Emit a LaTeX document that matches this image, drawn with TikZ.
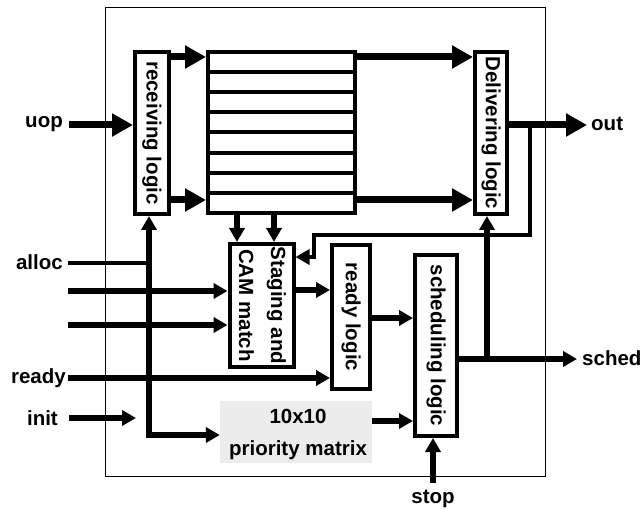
\documentclass[tikz,border=0pt]{standalone}
\usepackage{fontspec}
\usepackage{graphicx}
\setmainfont{Liberation Sans}
\usetikzlibrary{arrows.meta}
\newcommand\lblfont{\fontsize{20.5}{32}\selectfont\bfseries}
\newcommand\rottxt[1]{\rotatebox{-90}{#1}}
\begin{document}
\begin{tikzpicture}[x=1pt,y=-1pt,
  blk/.style={draw,line width=4pt,fill=white,inner sep=0pt,font=\lblfont},
  lbl/.style={inner sep=0pt,font=\lblfont},
  bigarrow/.style={line width=7pt,-{Triangle[length=21pt,width=22pt]}},
  medarrow/.style={line width=5.5pt,-{Triangle[length=14pt,width=15pt]}},
  fbarrow/.style={line width=4pt,-{Triangle[length=14pt,width=15pt]}},
  plainline/.style={line width=4pt},
]
\useasboundingbox (0,0) rectangle (642,510);
\node[draw, line width=1pt, minimum width=440pt, minimum height=468pt, inner sep=0pt] (frame) at (325,242) {};

% blocks
\node[blk, minimum width=34pt, minimum height=162pt] (recv) at (152,133) {\rottxt{receiving logic}};
\node[blk, minimum width=147pt, minimum height=161pt] (buf) at (281.5,132.5) {};
\foreach \k in {1,...,7} {\draw[line width=4pt] (206,{52+\k*20.125}) -- (357,{52+\k*20.125});}
\node[blk, minimum width=32pt, minimum height=162pt] (deliv) at (491,133) {\rottxt{Delivering logic}};
\node[blk, minimum width=59pt, minimum height=123pt] (stage) at (261.5,305.5) {\rottxt{\begin{tabular}{@{}c@{}}Staging and\\CAM match\end{tabular}}};
\node[blk, minimum width=38pt, minimum height=144pt] (ready) at (351,317) {\rottxt{ready logic}};
\node[blk, minimum width=42pt, minimum height=181pt] (sched) at (436,345.5) {\rottxt{scheduling logic}};
\node[fill=gray!15, inner sep=0pt, minimum width=152pt, minimum height=62pt, font=\lblfont, align=center] (prio) at (296,432) {};
\node[lbl, align=center] (prioT) at (298,434) {10x10\\priority matrix};

% labels
\node[lbl, anchor=mid east] (uopL) at (63,125) {uop};
\node[lbl, anchor=base east] (allocL) at (63,270) {alloc};
\node[lbl, anchor=base east] (readyL) at (66,383) {ready};
\node[lbl, anchor=base east] (initL) at (58,425) {init};
\node[lbl, anchor=base west] (outL) at (591,131) {out};
\node[lbl, anchor=base west] (schedL) at (582,365) {sched};
\node[lbl, anchor=base] (stopL) at (433,503) {stop};

% coordinates
\coordinate (uopS) at (69,125);
\coordinate (outE) at (587,125);
\coordinate (fbA) at (530,125);
\coordinate (fbB) at (314,235);
\coordinate (in1) at (68,291);
\coordinate (in2) at (68,325);
\coordinate (rdS) at (68,378);
\coordinate (initS) at (69,418);
\coordinate (initE) at (136,418);
\coordinate (allocS) at (68,263);
\coordinate (vb) at (149,435);
\coordinate (stopS) at (433,483);
\coordinate (schE) at (577,359);
\coordinate (dj) at (487,359);

% connectors
\draw[bigarrow] (uopS) -- (uopS -| recv.west);
\draw[bigarrow] (recv.east |- 0,57) -- (buf.west |- 0,57);
\draw[bigarrow] (recv.east |- 0,200) -- (buf.west |- 0,200);
\draw[bigarrow] (buf.east |- 0,57) -- (deliv.west |- 0,57);
\draw[bigarrow] (buf.east |- 0,200) -- (deliv.west |- 0,200);
\draw[bigarrow] (deliv.east |- outE) -- (outE);
\draw[fbarrow] (fbA) |- (fbB) |- (stage.east |- 0,257);
\draw[medarrow] (buf.south -| 237,0) -- (stage.north -| 237,0);
\draw[medarrow] (buf.south -| 274,0) -- (stage.north -| 274,0);
\draw[medarrow] (in1) -- (in1 -| stage.west);
\draw[medarrow] (in2) -- (in2 -| stage.west);
\draw[medarrow] (stage.east |- 0,290) -- (ready.west |- 0,290);
\draw[medarrow] (ready.east |- 0,318) -- (sched.west |- 0,318);
\draw[medarrow] (rdS) -- (rdS -| ready.west);
\draw[medarrow] (initS) -- (initE);
\draw[plainline] (allocS) -- (allocS -| vb);
\draw[line width=5.5pt, {Triangle[length=14pt,width=15pt]}-{Triangle[length=14pt,width=15pt]}] (vb |- recv.south) -- (vb) -- (vb -| prio.west);
\draw[medarrow] (prio.east |- 0,421) -- (sched.west |- 0,421);
\draw[medarrow] (stopS) -- (stopS |- sched.south);
\draw[medarrow] (sched.east |- schE) -- (schE);
\draw[medarrow] (dj) -- (dj |- deliv.south);
\end{tikzpicture}
\end{document}
